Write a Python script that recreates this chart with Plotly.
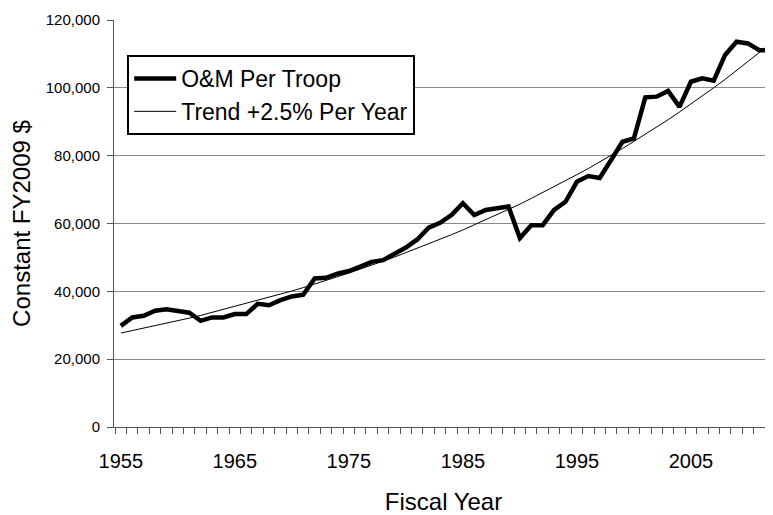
import plotly.graph_objects as go

years = [1955, 1956, 1957, 1958, 1959, 1960, 1961, 1962, 1963, 1964,
         1965, 1966, 1967, 1968, 1969, 1970, 1971, 1972, 1973, 1974,
         1975, 1976, 1977, 1978, 1979, 1980, 1981, 1982, 1983, 1984,
         1985, 1986, 1987, 1988, 1989, 1990, 1991, 1992, 1993, 1994,
         1995, 1996, 1997, 1998, 1999, 2000, 2001, 2002, 2003, 2004,
         2005, 2006, 2007, 2008, 2009, 2010, 2011, 2012]

om_per_troop = [29800, 32300, 32800, 34300, 34700, 34300, 33700, 31300, 32300, 32300,
                33300, 33300, 36300, 35900, 37400, 38500, 39000, 43800, 44000, 45200,
                46000, 47300, 48700, 49200, 51200, 52900, 55300, 58800, 60200, 62500,
                66000, 62500, 64000, 64600, 65000, 55700, 59500, 59500, 64000, 66400,
                72300, 74000, 73400, 78700, 84100, 85100, 97200, 97400, 99100, 94400,
                101800, 102800, 102100, 109700, 113600, 113100, 111100, 111100]

trend = [27700, 28400, 29100, 29800, 30600, 31300, 32100, 32900, 33800, 34600,
         35500, 36300, 37300, 38200, 39100, 40100, 41100, 42100, 43200, 44300,
         45400, 46500, 47700, 48900, 50100, 51400, 52600, 54000, 55300, 56700,
         58100, 59600, 61000, 62600, 64100, 65700, 67400, 69100, 70800, 72600,
         74400, 76200, 78100, 80100, 82100, 84200, 86300, 88400, 90600, 92900,
         95200, 97600, 100000, 102500, 105100, 107700, 110400, 113200]

x_tick_labels = [1955, 1965, 1975, 1985, 1995, 2005]
y_ticks = [0, 20000, 40000, 60000, 80000, 100000, 120000]

FONT = "Liberation Sans, Arial, sans-serif"

fig = go.Figure()
fig.add_trace(go.Scatter(x=years, y=om_per_troop, mode="lines", name="O&M Per Troop",
                         line=dict(color="#000000", width=4.5)))
fig.add_trace(go.Scatter(x=years, y=trend, mode="lines", name="Trend +2.5% Per Year",
                         line=dict(color="#000000", width=1)))

fig.update_layout(
    width=765, height=507,
    margin=dict(l=106, r=0, t=12, b=88),
    paper_bgcolor="white", plot_bgcolor="white",
    font=dict(family=FONT, color="#000000"),
    showlegend=True,
    legend=dict(x=0.02, y=0.914, xanchor="left", yanchor="top",
                bgcolor="white", bordercolor="#000000", borderwidth=2,
                font=dict(size=23, family=FONT, color="#000000"),
                itemwidth=42, tracegroupgap=0),
)

fig.update_xaxes(
    range=[1954.4, 2012.2], automargin=False,
    tickmode="array", tickvals=x_tick_labels, ticktext=[str(v) for v in x_tick_labels],
    ticks="", ticklabelstandoff=16,
    tickfont=dict(size=20, family=FONT, color="#000000"),
    showgrid=False, zeroline=False,
    showline=True, linecolor="#555555", linewidth=1,
    minor=dict(tick0=1954.5, dtick=1, ticks="outside", ticklen=6, tickcolor="#555555", showgrid=False),
    title=dict(text="Fiscal Year", font=dict(size=24, family=FONT, color="#000000"), standoff=25),
)

fig.update_yaxes(
    range=[0, 120000], automargin=False,
    tickmode="array", tickvals=y_ticks, tickformat=",",
    ticks="outside", ticklen=6, tickcolor="#555555", ticklabelstandoff=4,
    tickfont=dict(size=15, family=FONT, color="#000000"),
    showgrid=True, gridcolor="#8a8a8a", gridwidth=1,
    zeroline=False,
    showline=True, linecolor="#555555", linewidth=1,
    title=dict(text="Constant FY2009 $", font=dict(size=24, family=FONT, color="#000000"), standoff=14),
)

fig.write_html("out.html")
